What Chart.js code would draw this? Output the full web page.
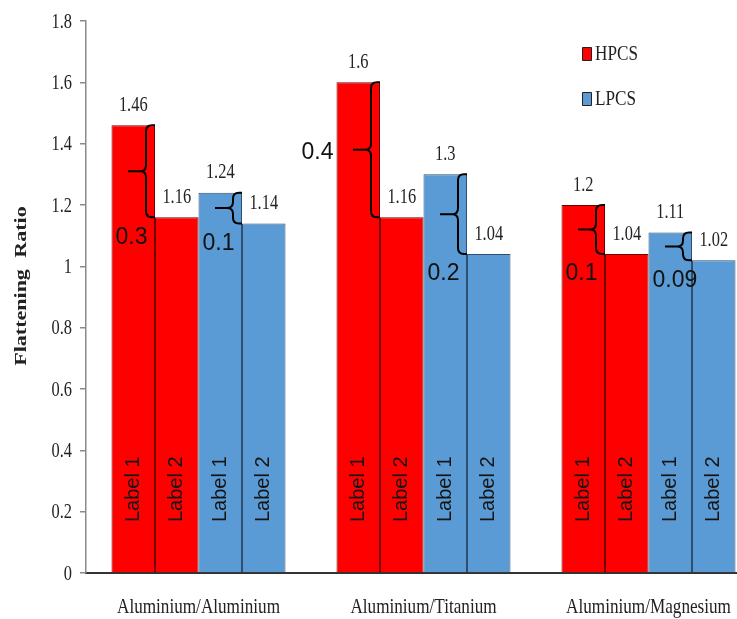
<!DOCTYPE html>
<html>
<head>
<meta charset="utf-8">
<title>Flattening Ratio</title>
<script src="https://cdn.jsdelivr.net/npm/chart.js@4/dist/chart.umd.min.js"></script>
<style>
  html, body { margin: 0; padding: 0; overflow: hidden; background: #ffffff; }
  #wrap { width: 737px; height: 619px; overflow: hidden; }
  canvas { display: block; }
</style>
</head>
<body>
<div id="wrap"><canvas id="chart" width="761" height="619"></canvas></div>
<script>
// Flattening ratio per material pair, high- and low-pressure cold spray
const categories = ['Aluminium/Aluminium', 'Aluminium/Titanium', 'Aluminium/Magnesium'];
const seriesNames = ['HPCS', 'LPCS'];
const barTags = ['Label 1', 'Label 2', 'Label 1', 'Label 2'];

const hpcsLabel1 = [1.46, 1.6, 1.2];
const hpcsLabel2 = [1.16, 1.16, 1.04];
const lpcsLabel1 = [1.24, 1.3, 1.11];
const lpcsLabel2 = [1.14, 1.04, 1.02];

// printed spread between the two bars of each pair
const hpcsGap = ['0.3', '0.4', '0.1'];
const lpcsGap = ['0.1', '0.2', '0.09'];

const yMin = 0, yMax = 1.8, yStep = 0.2;

const RED = '#ff0000', BLUE = '#5b9bd5';
const SERIF = '"Liberation Serif", "Times New Roman", serif';
const SANS = '"Liberation Sans", Arial, sans-serif';
const TEXT = '#222222';
const SQUEEZE = 0.78;   // narrow serif lettering

function squeezedText(ctx, text, x, y, align, font) {
  ctx.save();
  ctx.font = font;
  ctx.translate(x, y);
  ctx.scale(SQUEEZE, 1);
  ctx.textAlign = align;
  ctx.textBaseline = 'middle';
  ctx.fillText(text, 0, 0);
  ctx.restore();
}

function drawBrace(ctx, xs, xr, yT, yB, lead) {
  const r = Math.min(6, (yB - yT) / 4);
  const ym = (yT + yB) / 2;
  ctx.beginPath();
  ctx.moveTo(xr, yT);
  ctx.lineTo(xs + r, yT);
  ctx.quadraticCurveTo(xs, yT, xs, yT + r);
  ctx.lineTo(xs, ym - r);
  ctx.quadraticCurveTo(xs, ym, xs - r, ym);
  ctx.quadraticCurveTo(xs, ym, xs, ym + r);
  ctx.lineTo(xs, yB - r);
  ctx.quadraticCurveTo(xs, yB, xs + r, yB);
  ctx.lineTo(xr, yB);
  ctx.moveTo(xs - r, ym);
  ctx.lineTo(xs - r - lead, ym);
  ctx.stroke();
}

const annotations = {
  id: 'annotations',
  afterDatasetsDraw(chart, args, opts) {
    const ctx = chart.ctx;
    const ys = chart.scales.y;
    const xs = chart.scales.x;
    ctx.save();
    ctx.fillStyle = TEXT;

    // y tick labels
    ys.ticks.forEach(t => {
      const label = String(Number(t.value.toFixed(1)));
      squeezedText(ctx, label, 72, ys.getPixelForValue(t.value) + 1, 'right', '21px ' + SERIF);
    });

    // category labels
    categories.forEach((c, i) => {
      squeezedText(ctx, c, xs.getPixelForValue(i), 607, 'center', '22px ' + SERIF);
    });

    // y axis title
    ctx.save();
    ctx.translate(22, 286);
    ctx.rotate(-Math.PI / 2);
    ctx.scale(1, SQUEEZE);
    ctx.font = 'bold 22px ' + SERIF;
    ctx.textAlign = 'center';
    ctx.textBaseline = 'middle';
    if ('wordSpacing' in ctx) ctx.wordSpacing = '6px';
    ctx.fillText('Flattening Ratio', 0, 0);
    ctx.restore();

    // value labels and in-bar tags
    chart.data.datasets.forEach((ds, di) => {
      const meta = chart.getDatasetMeta(di);
      meta.data.forEach((bar, j) => {
        ctx.fillStyle = TEXT;
        squeezedText(ctx, String(ds.data[j]), bar.x, bar.y - 20, 'center', '21px ' + SERIF);
        ctx.save();
        ctx.translate(bar.x, bar.base - 83);
        ctx.rotate(-Math.PI / 2);
        ctx.font = '20px ' + SANS;
        ctx.fillStyle = '#151515';
        ctx.textAlign = 'center';
        ctx.textBaseline = 'middle';
        ctx.fillText(ds.tag, 0, 0);
        ctx.restore();
      });
    });

    // braces with spread values
    ctx.strokeStyle = '#000';
    ctx.lineWidth = 2;
    ctx.lineJoin = 'round';
    opts.pairs.forEach(p => {
      const tall = chart.getDatasetMeta(p.tall).data;
      const low = chart.getDatasetMeta(p.low).data;
      tall.forEach((bar, j) => {
        const right = bar.x + bar.width / 2;
        const left = bar.x - bar.width / 2;
        const yT = bar.y, yB = low[j].y;
        drawBrace(ctx, right - 9, right, yT, yB, 12);
        ctx.font = '23px ' + SANS;
        ctx.fillStyle = '#111';
        ctx.textBaseline = 'middle';
        if (p.outside.includes(j)) {
          ctx.textAlign = 'right';
          ctx.fillText(p.text[j], left - 3, (yT + yB) / 2 + 3);
        } else {
          ctx.textAlign = 'left';
          ctx.fillText(p.text[j], left + 4, yB + 20);
        }
      });
    });

    // legend
    const entries = [{ name: seriesNames[0], color: RED, y: 54 }, { name: seriesNames[1], color: BLUE, y: 99 }];
    entries.forEach(e => {
      ctx.fillStyle = e.color;
      ctx.fillRect(582.5, e.y - 6.5, 9, 13);
      ctx.strokeStyle = '#222';
      ctx.lineWidth = 1;
      ctx.strokeRect(582.5, e.y - 6.5, 9, 13);
      ctx.fillStyle = TEXT;
      squeezedText(ctx, e.name, 595, e.y, 'left', '22px ' + SERIF);
    });

    ctx.restore();
  }
};

const mkSet = (name, data, color, edge, tag) => ({
  label: name,
  data: data,
  tag: tag,
  backgroundColor: color,
  borderColor: edge,
  borderWidth: 1,
  borderSkipped: 'bottom',
  barPercentage: 1,
  categoryPercentage: 0.7733
});

new Chart(document.getElementById('chart'), {
  type: 'bar',
  data: {
    labels: categories,
    datasets: [
      mkSet(seriesNames[0], hpcsLabel1, RED, '#6e0000', barTags[0]),
      mkSet(seriesNames[0], hpcsLabel2, RED, '#6e0000', barTags[1]),
      mkSet(seriesNames[1], lpcsLabel1, BLUE, '#2f4f70', barTags[2]),
      mkSet(seriesNames[1], lpcsLabel2, BLUE, '#2f4f70', barTags[3])
    ]
  },
  options: {
    responsive: false,
    devicePixelRatio: 1,
    animation: false,
    layout: { padding: { top: 21, left: 0, right: 0, bottom: 0 } },
    plugins: {
      legend: { display: false },
      tooltip: { enabled: false },
      annotations: {
        pairs: [
          { tall: 0, low: 1, text: hpcsGap, outside: [1] },
          { tall: 2, low: 3, text: lpcsGap, outside: [] }
        ]
      }
    },
    scales: {
      x: {
        grid: { display: false },
        ticks: { display: false },
        border: { display: true, color: '#333333', width: 2 },
        afterFit(s) { s.height = 46; }
      },
      y: {
        min: yMin,
        max: yMax,
        ticks: { display: false, stepSize: yStep },
        grid: { display: true, drawOnChartArea: false, drawTicks: true, tickLength: 6, color: '#8a8a8a', lineWidth: 1.5 },
        border: { display: true, color: '#8a8a8a', width: 1.5 },
        afterFit(s) { s.width = 86; }
      }
    }
  },
  plugins: [annotations]
});
</script>
</body>
</html>
